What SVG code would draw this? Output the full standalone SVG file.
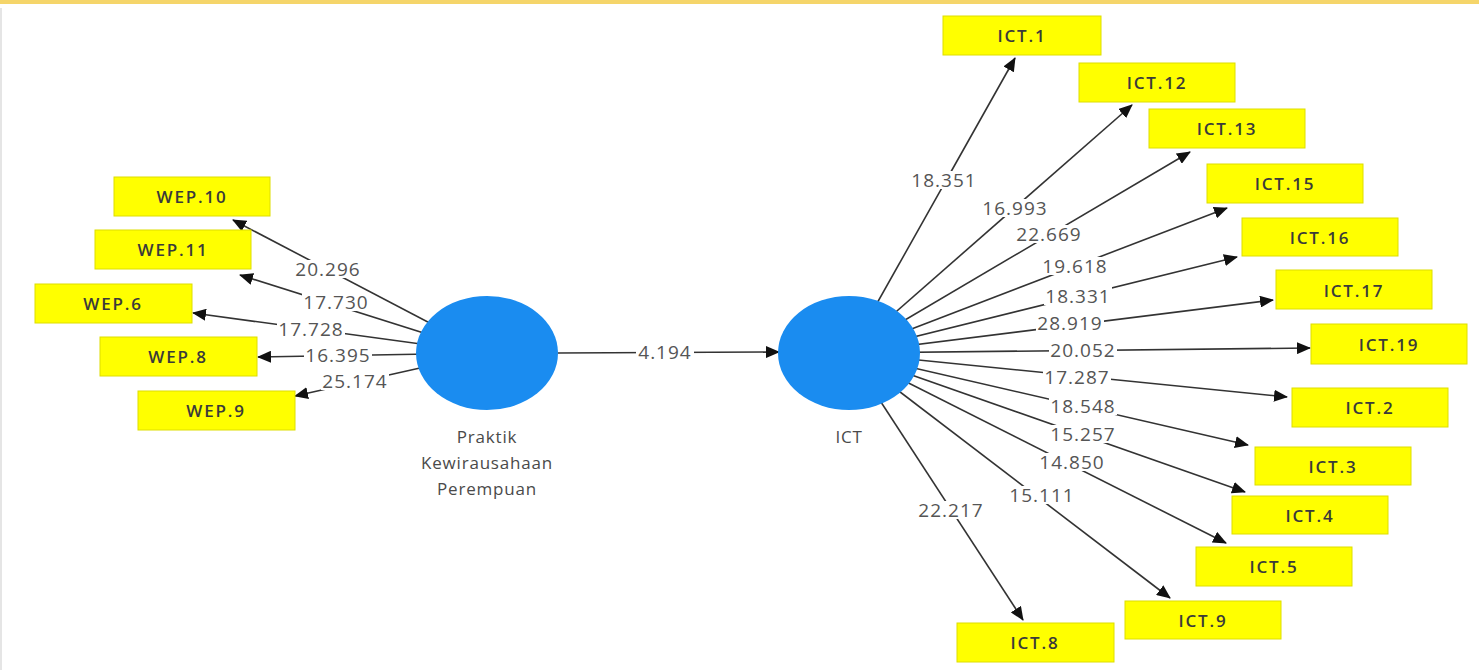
<svg xmlns="http://www.w3.org/2000/svg" width="1479" height="670" viewBox="0 0 1479 670">
<style>
.box{fill:#ffff00;stroke:#dede00;stroke-width:1}
.bt{font-family:"Open Sans","Liberation Sans",sans-serif;font-size:17px;font-weight:600;fill:#3a3a3a;text-anchor:middle;dominant-baseline:central;letter-spacing:1.8px}
.lv{fill:#1a8cf0}
.lt{font-family:"Open Sans","Liberation Sans",sans-serif;font-size:17px;fill:#4a4a4a;text-anchor:middle;letter-spacing:0.8px}
.ln{stroke:#333;stroke-width:1.6;fill:none;marker-end:url(#ah)}
.bg{fill:#fff}
.w{font-family:"Open Sans","Liberation Sans",sans-serif;font-size:19px;fill:#555;text-anchor:middle;dominant-baseline:central;letter-spacing:1px}
</style>
<defs>
<marker id="ah" markerUnits="userSpaceOnUse" markerWidth="14" markerHeight="12" viewBox="0 0 14 12" refX="13" refY="6" orient="auto">
<path d="M0,0 L14,6 L0,12 z" fill="#111"/>
</marker>
</defs>
<rect x="0" y="0" width="1479" height="670" fill="#fff"/>
<rect x="0" y="0" width="1479" height="4" fill="#f5d56a"/>
<line x1="1" y1="8" x2="1" y2="670" stroke="#ddd" stroke-width="1.5"/>
<g id="connectors">
<line class="ln" x1="487" y1="353" x2="233" y2="220"/>
<line class="ln" x1="487" y1="353" x2="240" y2="275"/>
<line class="ln" x1="487" y1="353" x2="193" y2="313"/>
<line class="ln" x1="487" y1="353" x2="258" y2="357"/>
<line class="ln" x1="487" y1="353" x2="295" y2="396"/>
<line class="ln" x1="558" y1="353" x2="779" y2="352"/>
<line class="ln" x1="849" y1="353" x2="1015" y2="58"/>
<line class="ln" x1="849" y1="353" x2="1132" y2="105"/>
<line class="ln" x1="849" y1="353" x2="1190" y2="152"/>
<line class="ln" x1="849" y1="353" x2="1227" y2="208"/>
<line class="ln" x1="849" y1="353" x2="1237" y2="257"/>
<line class="ln" x1="849" y1="353" x2="1273" y2="300"/>
<line class="ln" x1="849" y1="353" x2="1310" y2="348"/>
<line class="ln" x1="849" y1="353" x2="1287" y2="397"/>
<line class="ln" x1="849" y1="353" x2="1248" y2="445"/>
<line class="ln" x1="849" y1="353" x2="1245" y2="492"/>
<line class="ln" x1="849" y1="353" x2="1226" y2="543"/>
<line class="ln" x1="849" y1="353" x2="1170" y2="598"/>
<line class="ln" x1="849" y1="353" x2="1023" y2="620"/>
<rect class="bg" x="294" y="260" width="68" height="18"/>
<rect class="bg" x="302" y="293" width="68" height="18"/>
<rect class="bg" x="277" y="320" width="68" height="18"/>
<rect class="bg" x="304" y="346" width="68" height="18"/>
<rect class="bg" x="321" y="372" width="68" height="18"/>
<rect class="bg" x="636" y="343" width="58" height="18"/>
<rect class="bg" x="910" y="171" width="68" height="18"/>
<rect class="bg" x="981" y="199" width="68" height="18"/>
<rect class="bg" x="1015" y="225" width="68" height="18"/>
<rect class="bg" x="1041" y="257" width="68" height="18"/>
<rect class="bg" x="1044" y="287" width="68" height="18"/>
<rect class="bg" x="1036" y="314" width="68" height="18"/>
<rect class="bg" x="1049" y="341" width="68" height="18"/>
<rect class="bg" x="1043" y="368" width="68" height="18"/>
<rect class="bg" x="1049" y="397" width="68" height="18"/>
<rect class="bg" x="1049" y="425" width="68" height="18"/>
<rect class="bg" x="1038" y="453" width="68" height="18"/>
<rect class="bg" x="1008" y="486" width="68" height="18"/>
<rect class="bg" x="917" y="501" width="68" height="18"/>
<text class="w" x="328" y="269">20.296</text>
<text class="w" x="336" y="302">17.730</text>
<text class="w" x="311" y="329">17.728</text>
<text class="w" x="338" y="355">16.395</text>
<text class="w" x="355" y="381">25.174</text>
<text class="w" x="665" y="352">4.194</text>
<text class="w" x="944" y="180">18.351</text>
<text class="w" x="1015" y="208">16.993</text>
<text class="w" x="1049" y="234">22.669</text>
<text class="w" x="1075" y="266">19.618</text>
<text class="w" x="1078" y="296">18.331</text>
<text class="w" x="1070" y="323">28.919</text>
<text class="w" x="1083" y="350">20.052</text>
<text class="w" x="1077" y="377">17.287</text>
<text class="w" x="1083" y="406">18.548</text>
<text class="w" x="1083" y="434">15.257</text>
<text class="w" x="1072" y="462">14.850</text>
<text class="w" x="1042" y="495">15.111</text>
<text class="w" x="951" y="510">22.217</text>
</g>
<g id="wep">
<ellipse class="lv" cx="487" cy="353" rx="71" ry="57"/>
<text class="lt" x="487" y="443">Praktik</text>
<text class="lt" x="487" y="469">Kewirausahaan</text>
<text class="lt" x="487" y="495">Perempuan</text>
</g>
<g id="ict">
<ellipse class="lv" cx="849" cy="353" rx="71" ry="57"/>
<text class="lt" x="849" y="443">ICT</text>
</g>
<g id="wep10"><rect class="box" x="114" y="177" width="156" height="39"/><text class="bt" x="192" y="196">WEP.10</text></g>
<g id="wep11"><rect class="box" x="95" y="230" width="156" height="39"/><text class="bt" x="173" y="249">WEP.11</text></g>
<g id="wep6"><rect class="box" x="35" y="284" width="157" height="39"/><text class="bt" x="113" y="303">WEP.6</text></g>
<g id="wep8"><rect class="box" x="100" y="337" width="157" height="39"/><text class="bt" x="178" y="356">WEP.8</text></g>
<g id="wep9"><rect class="box" x="138" y="391" width="157" height="39"/><text class="bt" x="216" y="410">WEP.9</text></g>
<g id="ict1"><rect class="box" x="943" y="16" width="158" height="39"/><text class="bt" x="1022" y="35">ICT.1</text></g>
<g id="ict12"><rect class="box" x="1079" y="63" width="156" height="39"/><text class="bt" x="1157" y="82">ICT.12</text></g>
<g id="ict13"><rect class="box" x="1149" y="109" width="156" height="39"/><text class="bt" x="1227" y="128">ICT.13</text></g>
<g id="ict15"><rect class="box" x="1207" y="164" width="156" height="39"/><text class="bt" x="1285" y="183">ICT.15</text></g>
<g id="ict16"><rect class="box" x="1242" y="218" width="156" height="38"/><text class="bt" x="1320" y="237">ICT.16</text></g>
<g id="ict17"><rect class="box" x="1276" y="270" width="156" height="39"/><text class="bt" x="1354" y="290">ICT.17</text></g>
<g id="ict19"><rect class="box" x="1311" y="324" width="156" height="40"/><text class="bt" x="1389" y="344">ICT.19</text></g>
<g id="ict2"><rect class="box" x="1292" y="388" width="156" height="39"/><text class="bt" x="1370" y="407">ICT.2</text></g>
<g id="ict3"><rect class="box" x="1255" y="447" width="156" height="38"/><text class="bt" x="1333" y="466">ICT.3</text></g>
<g id="ict4"><rect class="box" x="1232" y="496" width="156" height="38"/><text class="bt" x="1310" y="515">ICT.4</text></g>
<g id="ict5"><rect class="box" x="1196" y="547" width="156" height="39"/><text class="bt" x="1274" y="566">ICT.5</text></g>
<g id="ict9"><rect class="box" x="1125" y="601" width="156" height="38"/><text class="bt" x="1203" y="620">ICT.9</text></g>
<g id="ict8"><rect class="box" x="957" y="623" width="157" height="39"/><text class="bt" x="1035" y="642">ICT.8</text></g>
</svg>
